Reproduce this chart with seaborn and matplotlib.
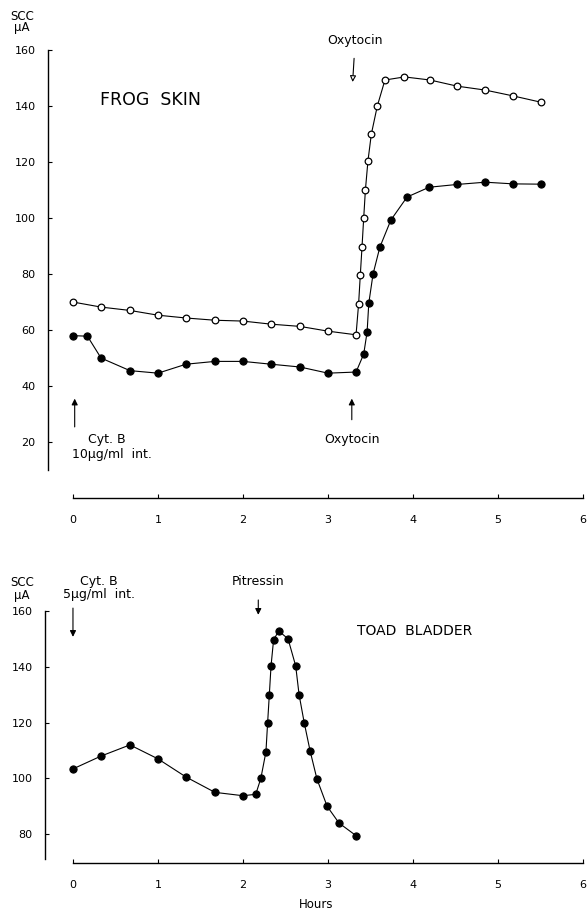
import numpy as np
import pandas as pd
import matplotlib
matplotlib.use("Agg")
import matplotlib.pyplot as plt
import seaborn as sns

# Frog skin - control (open circles)
frog_ctrl_h = [0, 0.33, 0.67, 1.0, 1.33, 1.67, 2.0, 2.33, 2.67, 3.0, 3.33,
               3.36, 3.38, 3.40, 3.42, 3.44, 3.47, 3.51, 3.58, 3.67, 3.9,
               4.2, 4.52, 4.85, 5.18, 5.5]
frog_ctrl_scc = [70, 68.2, 67, 65.3, 64.3, 63.5, 63.2, 62.1, 61.3, 59.6, 58.3,
                 69.3, 79.6, 89.6, 100, 110, 120.4, 130, 140, 149.3, 150.4,
                 149.3, 147.1, 145.7, 143.6, 141.4]

# Frog skin - cytochalasin B (filled circles)
frog_cyt_h = [0, 0.17, 0.33, 0.67, 1.0, 1.33, 1.67, 2.0, 2.33, 2.67, 3.0, 3.33,
              3.42, 3.46, 3.48, 3.53, 3.61, 3.74, 3.93, 4.19, 4.52, 4.85,
              5.18, 5.5]
frog_cyt_scc = [58, 57.8, 50, 45.5, 44.6, 47.8, 48.8, 48.8, 47.8, 46.8, 44.6, 45,
                51.4, 59.3, 69.6, 80, 89.6, 99.3, 107.5, 111, 112, 112.8,
                112.2, 112.1]

# Toad bladder - cytochalasin B (filled circles)
toad_h = [0, 0.33, 0.67, 1.0, 1.33, 1.67, 2.0, 2.15, 2.21, 2.27, 2.29, 2.31,
          2.33, 2.36, 2.42, 2.53, 2.62, 2.66, 2.72, 2.79, 2.87, 2.99, 3.13, 3.33]
toad_scc = [103.4, 108, 112, 107, 100.5, 95, 93.8, 94.3, 100, 109.5, 120, 130,
            140.3, 149.6, 152.8, 150, 140.3, 130, 120, 109.8, 99.8, 90, 84, 79.5]

x_ticks = [0, 1, 2, 3, 4, 5, 6]
top_yticks = [20, 40, 60, 80, 100, 120, 140, 160]
bot_yticks = [80, 100, 120, 140, 160]

sns.set_style("white")
plt.rcParams['font.family'] = ['DejaVu Sans']
plt.rcParams['text.color'] = 'black'

fig = plt.figure(figsize=(5.88, 9.10), dpi=100)
W, H = 588.0, 910.0

# axes placed in pixel terms
ax1 = fig.add_axes([48 / W, (H - 500) / H, (587 - 48) / W, (500 - 45) / H])
ax2 = fig.add_axes([45 / W, (H - 863) / H, (587 - 45) / W, (863 - 600) / H])

line_kw = dict(color='black', linewidth=0.8, estimator=None, sort=False)

sns.lineplot(x=frog_ctrl_h, y=frog_ctrl_scc, ax=ax1, marker='o', markersize=4.8,
             markerfacecolor='white', markeredgecolor='black', markeredgewidth=0.9,
             **line_kw)
sns.lineplot(x=frog_cyt_h, y=frog_cyt_scc, ax=ax1, marker='o', markersize=5.2,
             markerfacecolor='black', markeredgecolor='black', **line_kw)
sns.lineplot(x=toad_h, y=toad_scc, ax=ax2, marker='o', markersize=5.2,
             markerfacecolor='black', markeredgecolor='black', **line_kw)

ax1.set_xlim(-0.294, 6.047)
ax1.set_ylim(-0.7, 161.8)
ax2.set_xlim(-0.329, 6.047)
ax2.set_ylim(69.7, 163.9)

for ax, yt, ybound in [(ax1, top_yticks, (10, 160)), (ax2, bot_yticks, (71, 160))]:
    ax.spines['top'].set_visible(False)
    ax.spines['right'].set_visible(False)
    ax.spines['left'].set_bounds(*ybound)
    ax.spines['bottom'].set_bounds(0, 6)
    ax.spines['left'].set_linewidth(1.0)
    ax.spines['bottom'].set_linewidth(1.0)
    ax.spines['left'].set_color('black')
    ax.spines['bottom'].set_color('black')
    ax.set_xticks(x_ticks)
    ax.set_yticks(yt)
    ax.set_xticklabels([str(t) for t in x_ticks])
    ax.set_yticklabels([str(t) for t in yt])
    ax.tick_params(axis='both', direction='in', length=3, width=0.8,
                   labelsize=8, colors='black', bottom=True, left=True)
    ax.tick_params(axis='y', pad=9)
    ax.tick_params(axis='x', pad=12)
    ax.grid(False)
    ax.set_xlabel("")
    ax.set_ylabel("")

ax1.spines['bottom'].set_position(('data', 0))

# y-axis unit labels
fig.text(22 / W, 1 - 22 / H, "SCC\n\u03bcA", fontsize=8.5, ha='center', va='center',
         linespacing=0.9)
fig.text(22 / W, 1 - 589 / H, "SCC\n\u03bcA", fontsize=8.5, ha='center', va='center',
         linespacing=0.9)

arrow_kw = dict(arrowstyle='-|>', edgecolor='black', facecolor='black', lw=0.8,
                mutation_scale=9)

# frog skin annotations
ax1.text(0.32, 142, "FROG  SKIN", fontsize=12.5, ha='left', va='center')
ax1.annotate("Oxytocin", xy=(3.29, 148.6), xytext=(3.32, 163.5),
             fontsize=9, ha='center', va='center', annotation_clip=False,
             arrowprops=dict(arrowstyle='-|>', edgecolor='black', facecolor='white',
                             lw=0.8, mutation_scale=9, shrinkA=6, shrinkB=0))
ax1.annotate("Oxytocin", xy=(3.28, 35.5), xytext=(3.28, 21),
             fontsize=9, ha='center', va='center',
             arrowprops=dict(shrinkA=7, shrinkB=0, **arrow_kw))
ax1.annotate("", xy=(0.02, 35.5), xytext=(0.02, 25.4),
             arrowprops=dict(shrinkA=0, shrinkB=0, **arrow_kw))
ax1.text(0.18, 21, "Cyt. B", fontsize=9, ha='left', va='center')
ax1.text(-0.01, 15.4, "10\u03bcg/ml  int.", fontsize=9, ha='left', va='center')

# toad bladder annotations
ax2.text(3.34, 152.8, "TOAD  BLADDER", fontsize=10, ha='left', va='center')
ax2.text(0.08, 170.4, "Cyt. B", fontsize=9, ha='left', va='center', clip_on=False)
ax2.text(-0.12, 165.7, "5\u03bcg/ml  int.", fontsize=9, ha='left', va='center',
         clip_on=False)
ax2.annotate("", xy=(0.0, 150.7), xytext=(0.0, 161),
             annotation_clip=False,
             arrowprops=dict(shrinkA=0, shrinkB=0, **arrow_kw))
ax2.annotate("Pitressin", xy=(2.18, 158.6), xytext=(2.18, 170.4),
             fontsize=9, ha='center', va='center', annotation_clip=False,
             arrowprops=dict(shrinkA=6, shrinkB=0, **arrow_kw))

ax2.set_xlabel("Hours", fontsize=8.5, labelpad=6, color='black')

fig.savefig("out.png", dpi=100, facecolor='white')
